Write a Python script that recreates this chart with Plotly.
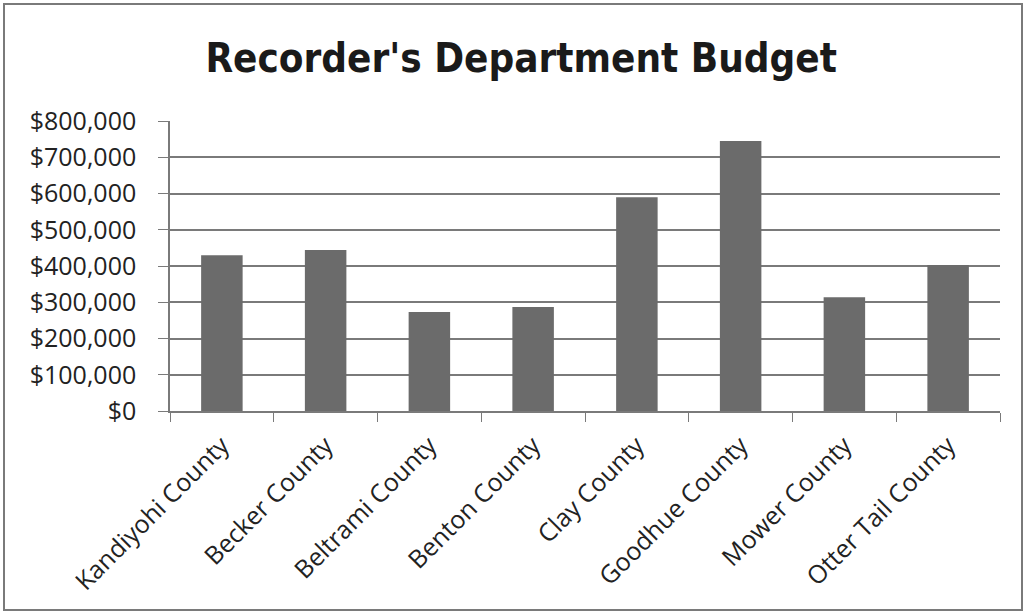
import plotly.graph_objects as go

counties = ["Kandiyohi County", "Becker County", "Beltrami County", "Benton County",
            "Clay County", "Goodhue County", "Mower County", "Otter Tail County"]
budget = [430000, 444000, 273000, 287000, 590000, 745000, 314000, 403000]
y_ticks = [0, 100000, 200000, 300000, 400000, 500000, 600000, 700000, 800000]
y_labels = ["$0", "$100,000", "$200,000", "$300,000", "$400,000", "$500,000",
            "$600,000", "$700,000", "$800,000"]

W, H = 1026, 614
L, R, T, B = 170, 26, 121, 203

fig = go.Figure(go.Bar(x=counties, y=budget, marker=dict(color="#6b6b6b", line=dict(width=0))))

pw = W - L - R
ph = H - T - B
def px(x):
    return (x - L) / pw
def py(y):
    return (H - B - y) / ph

fig.update_layout(
    width=W, height=H,
    margin=dict(l=L, r=R, t=T, b=B),
    paper_bgcolor="white", plot_bgcolor="white",
    bargap=0.6,
    showlegend=False,
    title=dict(text="<b>Recorder's Department Budget</b>", x=0.508, xanchor="center",
               y=1 - 58 / H, yanchor="middle",
               font=dict(family="DejaVu Sans Condensed", size=40, color="#1a1a1a")),
    font=dict(family="Open Sans, sans-serif", color="#222222"),
    shapes=[dict(type="rect", xref="paper", yref="paper",
                 x0=px(4), x1=px(1022), y0=py(610), y1=py(4),
                 line=dict(color="#7a7a7a", width=2), fillcolor="rgba(0,0,0,0)", layer="below")],
)
fig.update_yaxes(range=[0, 800000], tickvals=y_ticks, ticktext=y_labels,
                 showgrid=True, gridcolor="#7a7a7a", gridwidth=1.5,
                 showline=True, linecolor="#7a7a7a", linewidth=1.5,
                 ticks="outside", ticklen=10, tickcolor="#7a7a7a",
                 ticklabelstandoff=17,
                 tickfont=dict(size=25, family="Open Sans, sans-serif", color="#222222"),
                 zeroline=False)
fig.update_xaxes(showline=True, linecolor="#7a7a7a", linewidth=1.5,
                 ticks="outside", ticklen=9, tickcolor="#7a7a7a", tickson="boundaries",
                 tickangle=-45, showgrid=False, ticklabelstandoff=8,
                 tickfont=dict(size=25, family="Open Sans, sans-serif", color="#222222"))

fig.write_html("out.html")
